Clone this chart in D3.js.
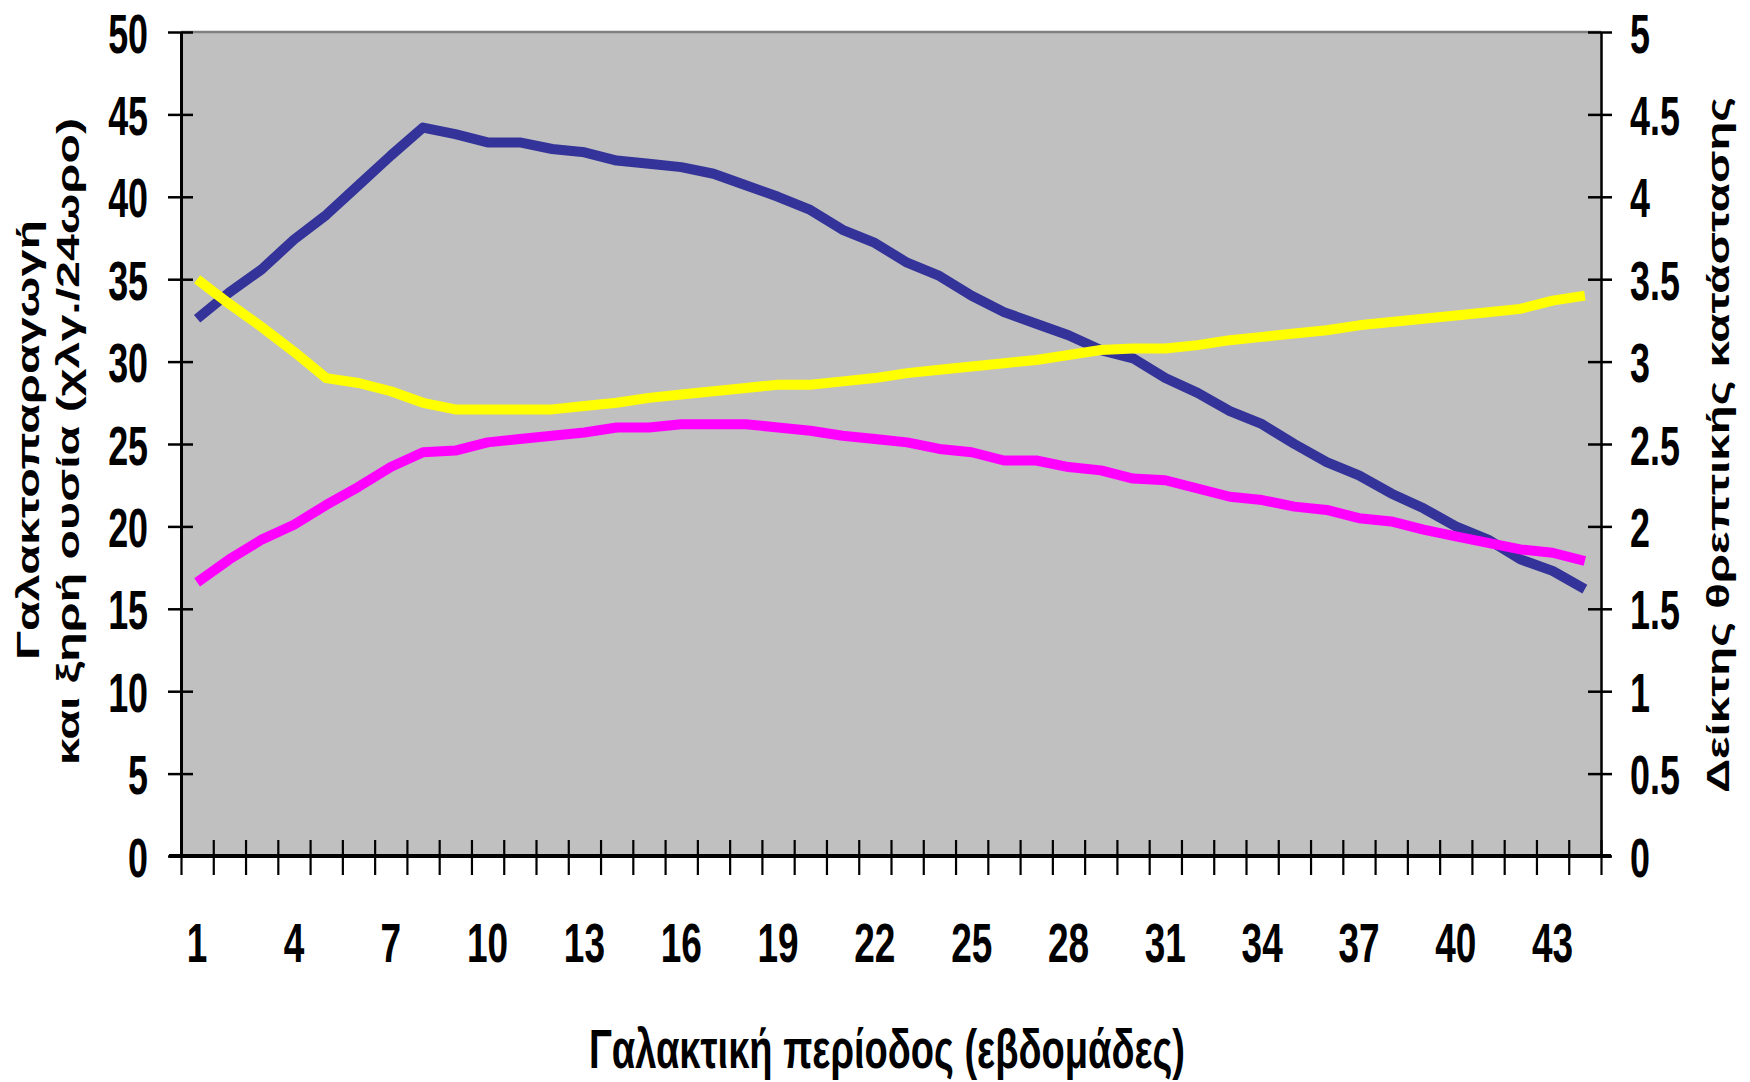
<!DOCTYPE html>
<html>
<head>
<meta charset="utf-8">
<script src="https://cdn.jsdelivr.net/npm/d3@7"></script>
<style>
  html, body { margin: 0; padding: 0; background: #fff; }
  svg { display: block; }
</style>
</head>
<body>
<script>
// ---- data ----
const weeks = [1,2,3,4,5,6,7,8,9,10,11,12,13,14,15,16,17,18,19,20,21,22,
               23,24,25,26,27,28,29,30,31,32,33,34,35,36,37,38,39,40,41,42,43,44];
const weekLabels = [1,4,7,10,13,16,19,22,25,28,31,34,37,40,43];

// Γαλακτοπαραγωγή (kg/24h) – left axis
const milkYield = [32.6,34.2,35.6,37.4,38.9,40.7,42.5,44.2,43.8,43.3,43.3,42.9,42.7,42.2,
                   42.0,41.8,41.4,40.7,40.0,39.2,38.0,37.2,36.0,35.2,34.0,33.0,32.3,31.6,
                   30.7,30.2,29.0,28.1,27.0,26.2,25.0,23.9,23.1,22.0,21.1,20.0,19.2,18.0,17.3,16.2];
// ξηρή ουσία (kg/24h) – left axis
const dryMatter = [16.6,18.0,19.2,20.1,21.3,22.4,23.6,24.5,24.6,25.1,25.3,25.5,25.7,26.0,
                   26.0,26.2,26.2,26.2,26.0,25.8,25.5,25.3,25.1,24.7,24.5,24.0,24.0,23.6,
                   23.4,22.9,22.8,22.3,21.8,21.6,21.2,21.0,20.5,20.3,19.8,19.4,19.0,18.6,18.4,17.9];
// Δείκτης θρεπτικής κατάστασης – right axis
const bodyCondition = [3.50,3.35,3.21,3.06,2.90,2.87,2.82,2.75,2.71,2.71,2.71,2.71,2.73,2.75,
                       2.78,2.80,2.82,2.84,2.86,2.86,2.88,2.90,2.93,2.95,2.97,2.99,3.01,3.04,
                       3.07,3.08,3.08,3.10,3.13,3.15,3.17,3.19,3.22,3.24,3.26,3.28,3.30,3.32,3.37,3.40];

const leftTicks = [0,5,10,15,20,25,30,35,40,45,50];
const rightTicks = [0,0.5,1,1.5,2,2.5,3,3.5,4,4.5,5];

const xTitle = "Γαλακτική περίοδος (εβδομάδες)";
const yTitleLines = ["Γαλακτοπαραγωγή", "και ξηρή ουσία (χλγ./24ωρο)"];
const y2Title = "Δείκτης θρεπτικής κατάστασης";

// ---- layout ----
const W = 1750, H = 1082;
const P = { left: 181, right: 1601, top: 32, bottom: 856 };
const FONT = "'Liberation Sans', Arial, sans-serif";

const svg = d3.select("body").append("svg").attr("width", W).attr("height", H);
svg.append("rect").attr("width", W).attr("height", H).attr("fill", "#fff");

const x = d3.scaleBand().domain(weeks).range([P.left, P.right]);
const xEdge = d3.scaleLinear().domain([0, weeks.length]).range([P.left, P.right]);
const yL = d3.scaleLinear().domain([0, 50]).range([P.bottom, P.top]);
const yR = d3.scaleLinear().domain([0, 5]).range([P.bottom, P.top]);

// plot area
svg.append("rect")
  .attr("x", P.left).attr("y", P.top)
  .attr("width", P.right - P.left).attr("height", P.bottom - P.top)
  .attr("fill", "#C0C0C0");
svg.append("line")
  .attr("x1", P.left).attr("x2", P.right).attr("y1", P.top).attr("y2", P.top)
  .attr("stroke", "#808080").attr("stroke-width", 2.5);

// series
const lineL = vals => d3.line().x((d, i) => x(weeks[i]) + x.bandwidth() / 2).y(d => yL(d))(vals);
const lineR = vals => d3.line().x((d, i) => x(weeks[i]) + x.bandwidth() / 2).y(d => yR(d))(vals);

const series = [
  { path: lineL(milkYield), color: "#333399" },
  { path: lineL(dryMatter), color: "#FF00FF" },
  { path: lineR(bodyCondition), color: "#FFFF00" }
];
svg.append("g").selectAll("path").data(series).join("path")
  .attr("d", d => d.path)
  .attr("fill", "none")
  .attr("stroke", d => d.color)
  .attr("stroke-width", 10)
  .attr("stroke-linejoin", "round")
  .attr("stroke-linecap", "butt");

// left axis
const gL = svg.append("g").attr("transform", `translate(${P.left},0)`)
  .call(d3.axisLeft(yL).tickValues(leftTicks).tickSize(12).tickSizeOuter(0).tickFormat(d => d));
gL.select(".domain").attr("stroke", "#000").attr("stroke-width", 3);
gL.selectAll(".tick line").attr("x1", 12).attr("x2", -13).attr("stroke", "#000").attr("stroke-width", 2.5);
gL.selectAll(".tick text")
  .attr("x", null).attr("dy", null)
  .attr("transform", "translate(-33,20) scale(0.64,1)")
  .attr("text-anchor", "end")
  .attr("font-family", FONT).attr("font-size", 56).attr("font-weight", "bold").attr("fill", "#000");

// right axis
const gR = svg.append("g").attr("transform", `translate(${P.right},0)`)
  .call(d3.axisRight(yR).tickValues(rightTicks).tickSize(12).tickSizeOuter(0).tickFormat(d => d));
gR.select(".domain").attr("stroke", "#000").attr("stroke-width", 2.5);
gR.selectAll(".tick line").attr("x1", -13).attr("x2", 11).attr("stroke", "#000").attr("stroke-width", 2.5);
gR.selectAll(".tick text")
  .attr("x", null).attr("dy", null)
  .attr("transform", "translate(29,20) scale(0.64,1)")
  .attr("text-anchor", "start")
  .attr("font-family", FONT).attr("font-size", 56).attr("font-weight", "bold").attr("fill", "#000");

// x axis: tick marks at category boundaries
const gXt = svg.append("g").attr("transform", `translate(0,${P.bottom})`)
  .call(d3.axisBottom(xEdge).tickValues(d3.range(0, weeks.length + 1)).tickSize(19).tickSizeOuter(0).tickFormat(""));
gXt.select(".domain").remove();
gXt.selectAll(".tick line").attr("y1", -16).attr("y2", 19).attr("stroke", "#000").attr("stroke-width", 2.2);
svg.append("line")
  .attr("x1", P.left - 12).attr("x2", P.right + 10).attr("y1", P.bottom).attr("y2", P.bottom)
  .attr("stroke", "#000").attr("stroke-width", 4);

// x labels
const gX = svg.append("g").attr("transform", `translate(0,${P.bottom})`)
  .call(d3.axisBottom(x).tickValues(weekLabels).tickSize(0).tickFormat(d => d));
gX.select(".domain").remove();
gX.selectAll(".tick text")
  .attr("y", null).attr("dy", null)
  .attr("transform", "translate(0,106) scale(0.66,1)")
  .attr("text-anchor", "middle")
  .attr("font-family", FONT).attr("font-size", 56).attr("font-weight", "bold").attr("fill", "#000");

// titles
svg.append("text")
  .attr("transform", "translate(589,1068)")
  .attr("textLength", 596).attr("lengthAdjust", "spacingAndGlyphs")
  .attr("font-family", FONT).attr("font-size", 56).attr("font-weight", "bold")
  .text(xTitle);

svg.append("text")
  .attr("transform", "translate(38.5,660) rotate(-90)")
  .attr("textLength", 440).attr("lengthAdjust", "spacingAndGlyphs")
  .attr("font-family", FONT).attr("font-size", 32).attr("font-weight", "bold")
  .text(yTitleLines[0]);
svg.append("text")
  .attr("transform", "translate(78.5,765) rotate(-90)")
  .attr("textLength", 647).attr("lengthAdjust", "spacingAndGlyphs")
  .attr("font-family", FONT).attr("font-size", 32).attr("font-weight", "bold")
  .text(yTitleLines[1]);

svg.append("text")
  .attr("transform", "translate(1729,793) rotate(-90)")
  .attr("textLength", 696).attr("lengthAdjust", "spacingAndGlyphs")
  .attr("font-family", FONT).attr("font-size", 32).attr("font-weight", "bold")
  .text(y2Title);
</script>
</body>
</html>
